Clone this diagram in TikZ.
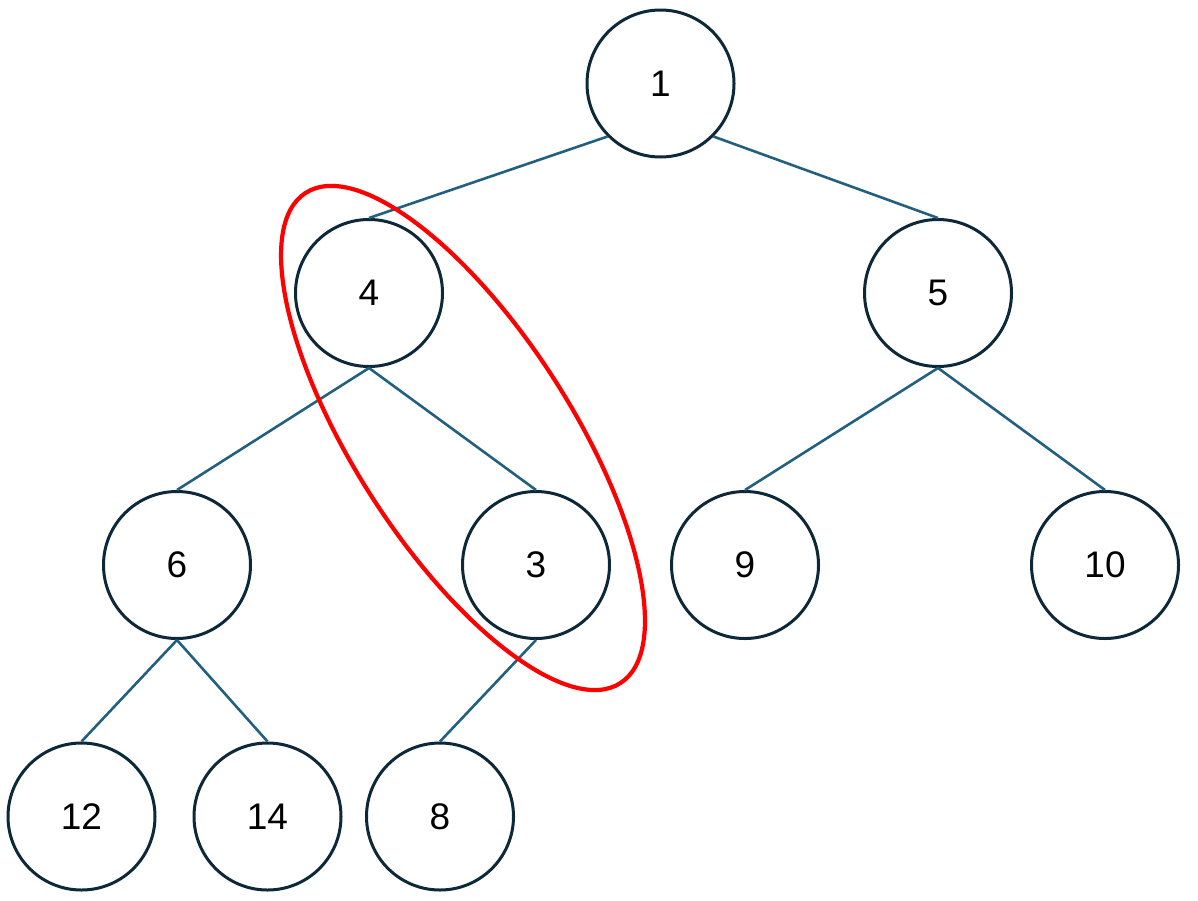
\documentclass[tikz,border=0pt]{standalone}
\usepackage{fontspec}
\setmainfont{Liberation Sans}
\begin{document}
\begin{tikzpicture}[x=1pt,y=-1pt,
  treenode/.style={circle,draw=nodeline,line width=3pt,minimum size=147pt,inner sep=0pt,font=\fontsize{37}{40}\selectfont,fill=white},
  edge/.style={draw=edgeblue,line width=2.6pt}]
\definecolor{nodeline}{HTML}{0D2838}
\definecolor{edgeblue}{HTML}{23607F}
\definecolor{hired}{HTML}{FF0000}
\useasboundingbox (0,0) rectangle (1198,900);
\node[treenode] (n1) at (660.5,83.5) {1};
\node[treenode] (n4) at (369,293) {4};
\node[treenode] (n5) at (938,293) {5};
\node[treenode] (n6) at (177,565) {6};
\node[treenode] (n3) at (536,565) {3};
\node[treenode] (n9) at (745,565) {9};
\node[treenode] (n10) at (1105,565) {10};
\node[treenode] (n12) at (81.5,816.5) {12};
\node[treenode] (n14) at (267.5,816.5) {14};
\node[treenode] (n8) at (440,816.5) {8};
\draw[edge] (n1.south west) -- (n4.north);
\draw[edge] (n1.south east) -- (n5.north);
\draw[edge] (n4.south) -- (n6.north);
\draw[edge] (n4.south) -- (n3.north);
\draw[edge] (n5.south) -- (n9.north);
\draw[edge] (n5.south) -- (n10.north);
\draw[edge] (n6.south) -- (n12.north);
\draw[edge] (n6.south) -- (n14.north);
\draw[edge] (n3.south) -- (n8.north);
\coordinate (ec) at (463,438);
\draw[hired,line width=4.2pt,rotate around={-57.3:(ec)}] (ec) ellipse [x radius=291.3pt, y radius=108.5pt];
\end{tikzpicture}
\end{document}
